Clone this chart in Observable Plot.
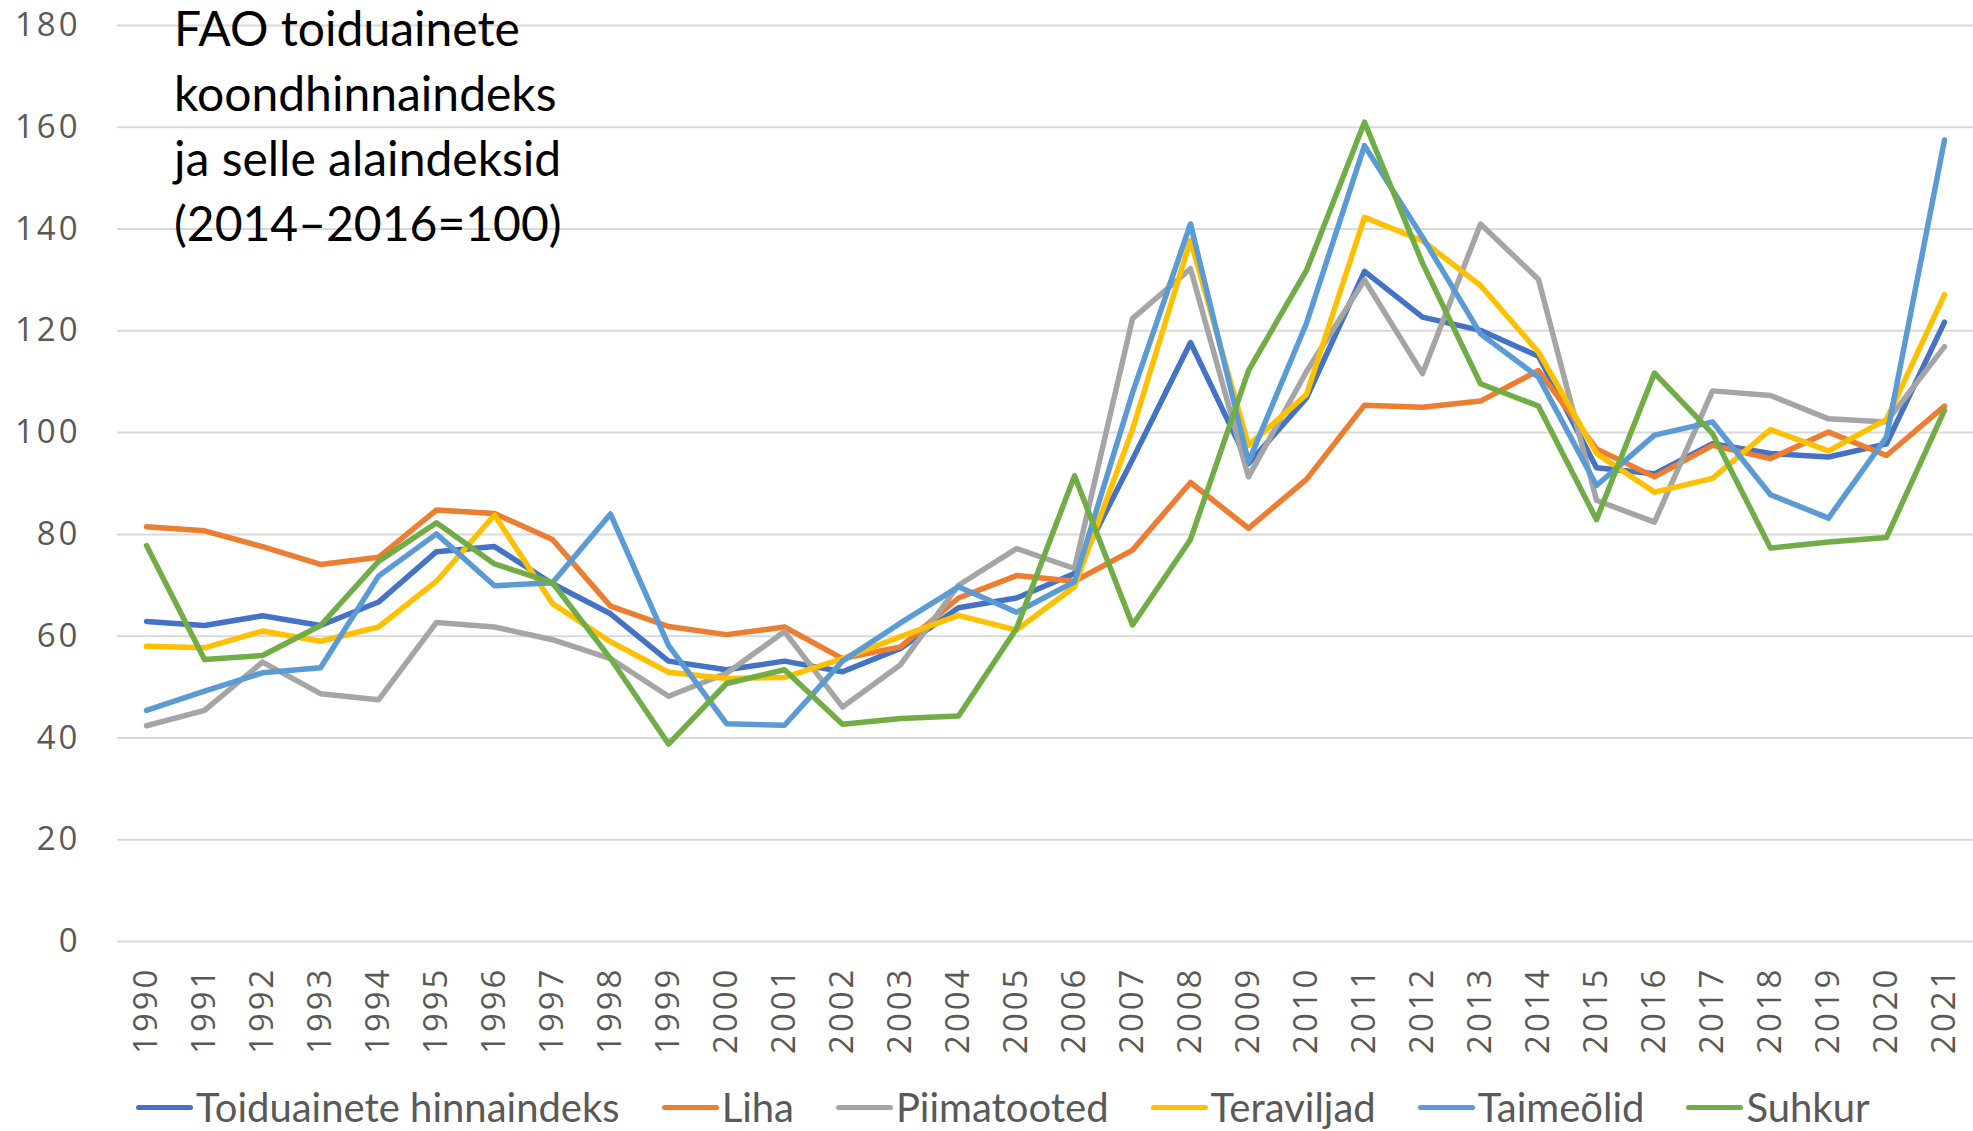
<!DOCTYPE html>
<html>
<head>
<meta charset="utf-8">
<script src="https://cdn.jsdelivr.net/npm/d3@7"></script>
<script src="https://cdn.jsdelivr.net/npm/@observablehq/plot@0.6"></script>
<style>
  html, body { margin: 0; padding: 0; background: #fff; }
  #wrap { position: relative; width: 1973px; height: 1131px; overflow: hidden; }
  #title { position: absolute; left: 174px; top: -5px; font-family: Lato, "Open Sans", sans-serif; font-size: 48px; line-height: 65px; color: #000; }
  #legend { position: absolute; left: 136px; top: 1078px; height: 58px; display: flex; align-items: center; font-family: Lato, "Open Sans", sans-serif; font-size: 40px; color: #595959; }
  .item { display: flex; align-items: center; margin-right: 42px; }
  .sw { width: 57px; height: 5px; border-radius: 3px; margin-right: 3px; }
  g[aria-label="y-axis tick label"] text { font-family: "Open Sans", sans-serif; font-size: 33px; letter-spacing: 3px; fill: #595959; }
  g[aria-label="x-axis tick label"] text { font-family: "Open Sans", sans-serif; font-size: 33px; letter-spacing: 3px; fill: #595959; }
</style>
</head>
<body>
<div id="wrap">
  <div id="chart"></div>
  <div id="title">FAO toiduainete<br>koondhinnaindeks<br>ja selle alaindeksid<br>(2014–2016=100)</div>
  <div id="legend"></div>
</div>
<script>
const years = d3.range(1990, 2022).map(String);
const seriesNames = ["Toiduainete hinnaindeks", "Liha", "Piimatooted", "Teraviljad", "Taimeõlid", "Suhkur"];
const seriesColors = ["#4472C4", "#ED7D31", "#A5A5A5", "#FFC000", "#5B9BD5", "#70AD47"];
const yTicks = [0, 20, 40, 60, 80, 100, 120, 140, 160, 180];

const toiduainete = [62.9, 62.1, 64.0, 62.1, 66.7, 76.6, 77.6, 70.3, 64.4, 55.1, 53.4, 55.1, 53.0, 57.6, 65.6, 67.5, 72.3, 94.7, 117.7, 93.9, 106.8, 131.7, 122.7, 120.1, 115.0, 93.1, 91.9, 97.8, 95.9, 95.2, 97.8, 121.7];
const liha        = [81.5, 80.7, 77.6, 74.1, 75.5, 84.8, 84.1, 79.0, 65.9, 61.9, 60.3, 61.8, 55.6, 57.9, 67.5, 71.9, 70.8, 76.9, 90.2, 81.2, 90.8, 105.4, 105.0, 106.2, 112.2, 96.8, 91.3, 97.5, 94.9, 100.1, 95.5, 105.2];
const piimatooted = [42.4, 45.4, 54.9, 48.7, 47.5, 62.7, 61.8, 59.3, 55.6, 48.2, 52.7, 60.9, 46.1, 54.4, 70.0, 77.2, 73.3, 122.4, 132.2, 91.3, 112.0, 130.0, 111.6, 141.0, 130.1, 86.7, 82.4, 108.2, 107.3, 102.7, 102.1, 116.9];
const teraviljad  = [58.0, 57.7, 61.0, 59.0, 61.8, 70.8, 83.8, 66.4, 58.9, 52.9, 51.7, 51.9, 55.6, 59.9, 64.1, 61.2, 69.7, 100.6, 137.8, 97.5, 107.5, 142.3, 137.7, 128.9, 115.8, 95.9, 88.3, 91.0, 100.6, 96.4, 102.6, 127.1];
const taimeolid   = [45.4, 49.2, 52.8, 53.8, 71.8, 80.1, 69.9, 70.5, 84.0, 58.2, 42.8, 42.5, 55.1, 62.6, 69.7, 64.7, 70.7, 107.8, 141.0, 94.2, 121.5, 156.4, 138.4, 119.4, 110.9, 89.6, 99.5, 102.1, 87.8, 83.2, 99.1, 157.5];
const suhkur      = [77.8, 55.4, 56.2, 62.1, 74.7, 82.3, 74.2, 70.5, 55.6, 38.8, 50.7, 53.4, 42.7, 43.8, 44.3, 61.5, 91.5, 62.2, 79.0, 112.2, 131.9, 161.0, 133.3, 109.6, 105.2, 82.9, 111.7, 99.8, 77.3, 78.5, 79.4, 104.4];

const seriesValues = [toiduainete, liha, piimatooted, teraviljad, taimeolid, suhkur];
const data = [];
seriesNames.forEach((name, s) => {
  years.forEach((yr, i) => data.push({series: name, year: yr, value: seriesValues[s][i]}));
});

const chart = Plot.plot({
  width: 1973,
  height: 1070,
  marginLeft: 117,
  marginRight: 0,
  marginTop: 25,
  marginBottom: 129,
  style: {background: "transparent"},
  x: {type: "point", domain: years, padding: 0.5, label: null},
  y: {domain: [0, 180], label: null},
  color: {domain: seriesNames, range: seriesColors},
  marks: [
    Plot.gridY(yTicks, {stroke: "#D9D9D9", strokeOpacity: 1, strokeWidth: 2}),
    Plot.axisY(yTicks, {tickSize: 0, tickPadding: 37, label: null}),
    Plot.axisX({tickSize: 0, tickRotate: -90, tickPadding: 25, label: null}),
    Plot.line(data, {x: "year", y: "value", z: "series", stroke: "series", strokeWidth: 5.5, strokeLinejoin: "round", strokeLinecap: "round"})
  ]
});
document.getElementById("chart").appendChild(chart);

const legend = document.getElementById("legend");
seriesNames.forEach((name, i) => {
  const it = document.createElement("div");
  it.className = "item";
  const sw = document.createElement("div");
  sw.className = "sw";
  sw.style.background = seriesColors[i];
  const tx = document.createElement("span");
  tx.textContent = name;
  it.appendChild(sw);
  it.appendChild(tx);
  legend.appendChild(it);
});
</script>
</body>
</html>
